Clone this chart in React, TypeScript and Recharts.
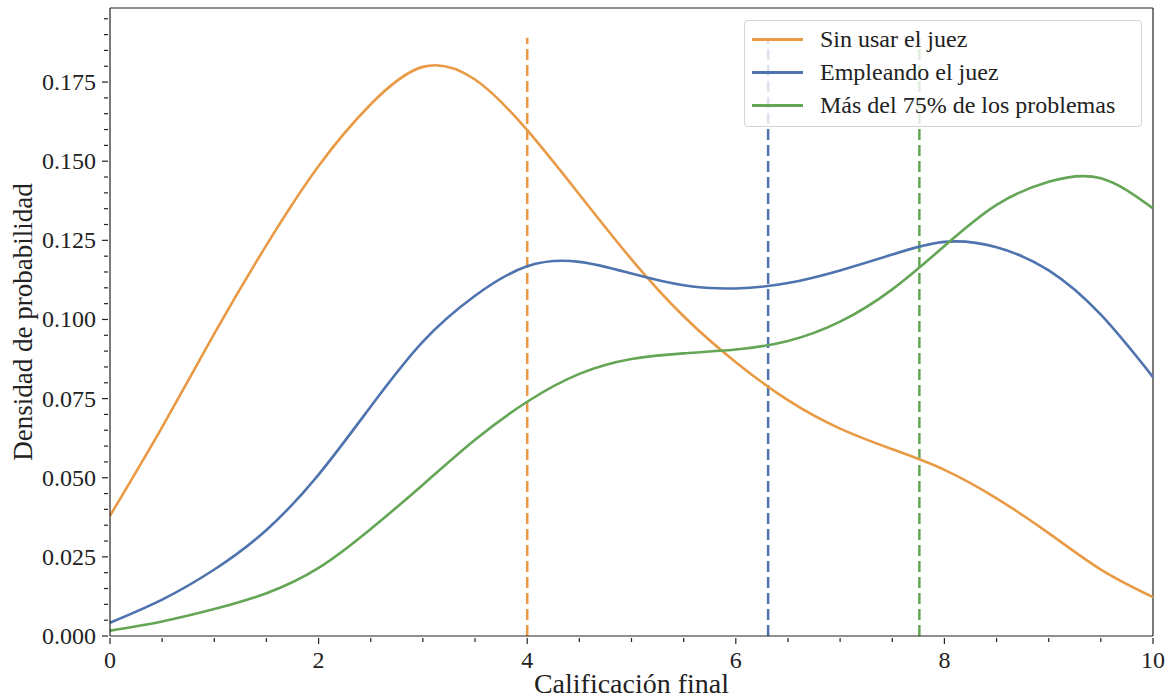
import { LineChart, Line, XAxis, YAxis, ReferenceLine } from 'recharts'

// grid of calificaciones
const xs = [0, 0.5, 1, 1.5, 2, 2.5, 3, 3.5, 4, 4.5, 5, 5.5, 6, 6.5, 7, 7.5, 8, 8.5, 9, 9.5, 10]

const sinJuez = [0.038, 0.066, 0.0955, 0.1235, 0.1485, 0.168, 0.1798, 0.1758, 0.1598, 0.1395, 0.119,
  0.101, 0.0865, 0.0745, 0.0655, 0.059, 0.0525, 0.0435, 0.0325, 0.021, 0.0123]
const conJuez = [0.0042, 0.0115, 0.021, 0.0335, 0.051, 0.0725, 0.093, 0.1075, 0.1168, 0.1182, 0.1145,
  0.1108, 0.1098, 0.1115, 0.1155, 0.1205, 0.1245, 0.1228, 0.1155, 0.1015, 0.0818]
const mas75 = [0.0017, 0.0046, 0.0085, 0.0135, 0.0215, 0.0338, 0.0478, 0.062, 0.074, 0.0828, 0.0875,
  0.0893, 0.0905, 0.0932, 0.0993, 0.1095, 0.1232, 0.1362, 0.1435, 0.1446, 0.1351]

// medias (lineas discontinuas)
const medias = [4.0, 6.31, 7.76]
const mediaTop = 0.189

const names = ['Sin usar el juez', 'Empleando el juez', 'Más del 75% de los problemas']
const colors = ['#e99a45', '#4e73ae', '#64a656']
const keys = ['sin', 'con', 'mas']

const xTicks = [0, 0.5, 1, 1.5, 2, 2.5, 3, 3.5, 4, 4.5, 5, 5.5, 6, 6.5, 7, 7.5, 8, 8.5, 9, 9.5, 10]
const xMajor = [0, 2, 4, 6, 8, 10]
const yTicks = [0, 0.005, 0.01, 0.015, 0.02, 0.025, 0.03, 0.035, 0.04, 0.045, 0.05, 0.055, 0.06,
  0.065, 0.07, 0.075, 0.08, 0.085, 0.09, 0.095, 0.1, 0.105, 0.11, 0.115, 0.12, 0.125, 0.13, 0.135,
  0.14, 0.145, 0.15, 0.155, 0.16, 0.165, 0.17, 0.175, 0.18, 0.185, 0.19, 0.195]
const yMajor = [0, 0.025, 0.05, 0.075, 0.1, 0.125, 0.15, 0.175]
const yTop = 0.1984

const FONT = '"Liberation Serif", "DejaVu Serif", serif'
const INK = '#222'

const data = xs.map((x, i) => ({ x, sin: sinJuez[i], con: conJuez[i], mas: mas75[i] }))

const isMajor = (list: number[], v: number) => list.some(m => Math.abs(m - v) < 1e-9)

function XTick({ x, y, payload }: any) {
  const major = isMajor(xMajor, payload.value)
  return (
    <g>
      <line x1={x} x2={x} y1={y} y2={y + (major ? 6 : 4)} stroke={INK} strokeWidth={1.2} />
      {major && (
        <text x={x} y={y + 30} textAnchor="middle" fontFamily={FONT} fontSize={24} fill={INK}>
          {payload.value}
        </text>
      )}
    </g>
  )
}

function YTick({ x, y, payload }: any) {
  const major = isMajor(yMajor, payload.value)
  return (
    <g>
      <line x1={x - (major ? 6 : 4)} x2={x} y1={y} y2={y} stroke={INK} strokeWidth={1.2} />
      {major && (
        <text x={x - 12} y={y + 8} textAnchor="end" fontFamily={FONT} fontSize={24} fill={INK}>
          {payload.value.toFixed(3)}
        </text>
      )}
    </g>
  )
}

function LegendBox() {
  return (
    <div style={{
      position: 'absolute', top: 20, left: 744,
      width: 398, height: 107, border: '1px solid #d4d4d4', borderRadius: 4,
      background: 'rgba(255,255,255,0.8)', boxSizing: 'border-box', paddingTop: 2,
    }}>
      {names.map((n, i) => (
        <div key={n} style={{ display: 'flex', alignItems: 'center', height: 33 }}>
          <div style={{ width: 51, height: 3, background: colors[i], marginLeft: 7, marginRight: 17 }} />
          <span style={{ fontFamily: FONT, fontSize: 24, color: INK, whiteSpace: 'nowrap' }}>{n}</span>
        </div>
      ))}
    </div>
  )
}

export default function App() {
  return (
    <div style={{ position: 'absolute', left: 0, top: 0, width: 1171, height: 700, background: '#fff' }}>
      <LineChart width={1171} height={700} data={data}
        margin={{ top: 8, right: 18, bottom: 0, left: 0 }}>
        <XAxis dataKey="x" type="number" domain={[0, 10]} ticks={xTicks} interval={0}
          height={64} tickSize={0} tickLine={false} tick={<XTick />}
          axisLine={{ stroke: INK, strokeWidth: 1.2 }}
          label={{ value: 'Calificación final', position: 'insideBottom', offset: 7,
            style: { fontFamily: FONT, fontSize: 28, fill: INK } }} />
        <YAxis type="number" domain={[0, yTop]} ticks={yTicks} interval={0} allowDataOverflow
          width={110} tickSize={0} tickLine={false} tick={<YTick />}
          axisLine={{ stroke: INK, strokeWidth: 1.2 }}
          label={{ value: 'Densidad de probabilidad', angle: -90, position: 'insideLeft', offset: 22,
            style: { fontFamily: FONT, fontSize: 27, fill: INK, textAnchor: 'middle' } }} />
        <ReferenceLine y={yTop} stroke={INK} strokeWidth={1.2} />
        <ReferenceLine x={10} stroke={INK} strokeWidth={1.2} />
        {medias.map((m, i) => (
          <ReferenceLine key={'m' + i} segment={[{ x: m, y: 0 }, { x: m, y: mediaTop }]}
            stroke={colors[i]} strokeWidth={2.5} strokeDasharray="11 5" />
        ))}
        {keys.map((k, i) => (
          <Line key={k} dataKey={k} type="natural" stroke={colors[i]} strokeWidth={2.6}
            dot={false} isAnimationActive={false} />
        ))}
      </LineChart>
      <LegendBox />
    </div>
  )
}
